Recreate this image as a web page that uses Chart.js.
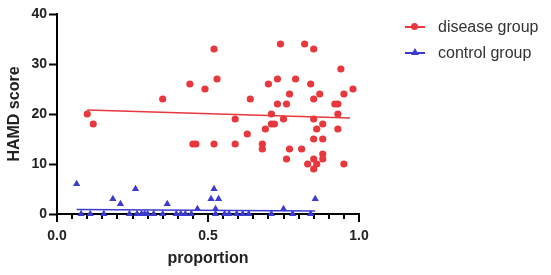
<!DOCTYPE html>
<html>
<head>
<meta charset="utf-8">
<script src="https://cdn.jsdelivr.net/npm/chart.js@4.4.1/dist/chart.umd.min.js"></script>
<style>
  html, body { margin: 0; padding: 0; background: #fff; }
  #wrap { position: relative; width: 551px; height: 275px; }
  canvas { position: absolute; left: 0; top: 0; }
  .leg { position: absolute; left: 403px; font: 16px "Liberation Sans", Arial, sans-serif; color: #333; white-space: nowrap; height: 20px; line-height: 20px; }
  .leg .ln { position: absolute; left: 2px; top: 9px; width: 20px; height: 1.5px; }
  .leg .mk { position: absolute; }
  .leg .tx { position: absolute; left: 35px; top: 0; }
</style>
</head>
<body>
<div id="wrap">
  <canvas id="c" width="551" height="275"></canvas>
  <div class="leg" style="top:17px">
    <div class="ln" style="background:#e8383d"></div>
    <div class="mk" style="left:8px;top:6px;width:7px;height:7px;border-radius:50%;background:#e8383d"></div>
    <span class="tx">disease group</span>
  </div>
  <div class="leg" style="top:43px">
    <div class="ln" style="background:#3b3bd0"></div>
    <div class="mk" style="left:8px;top:5px;width:0;height:0;border-left:4px solid transparent;border-right:4px solid transparent;border-bottom:7px solid #3b3bd0"></div>
    <span class="tx">control group</span>
  </div>
</div>
<script>
// ---- data ----
const diseaseProportion = [0.10,0.12,0.35,0.44,0.45,0.46,0.49,0.52,0.52,0.53,0.59,0.59,0.63,0.64,0.68,0.68,0.69,0.70,0.71,0.71,0.72,0.73,0.73,0.74,0.75,0.76,0.76,0.77,0.77,0.79,0.81,0.82,0.83,0.84,0.85,0.85,0.85,0.85,0.85,0.85,0.86,0.86,0.87,0.88,0.88,0.88,0.88,0.92,0.93,0.93,0.93,0.94,0.95,0.95,0.98];
const diseaseScore      = [20,18,23,26,14,14,25,33,14,27,19,14,16,23,14,13,17,26,20,18,18,22,27,34,19,22,11,24,13,27,13,34,10,26,33,23,19,15,11,9,17,10,24,18,15,12,11,22,22,20,17,29,24,10,25];
const controlProportion = [0.065,0.08,0.11,0.155,0.185,0.21,0.24,0.26,0.265,0.28,0.29,0.30,0.32,0.35,0.365,0.395,0.41,0.425,0.445,0.465,0.51,0.52,0.525,0.525,0.535,0.555,0.57,0.595,0.615,0.635,0.71,0.75,0.78,0.84,0.855];
const controlScore      = [6,0,0,0,3,2,0,5,0,0,0,0,0,0,2,0,0,0,0,1,3,5,1,0,3,0,0,0,0,0,0,1,0,0,3];
const diseaseFitX = [0.10, 0.97];
const diseaseFitY = [20.8, 19.2];
const controlFitX = [0.065, 0.855];
const controlFitY = [0.9, 0.6];
const xTicks = [0.0, 0.5, 1.0];
const yTicks = [0, 10, 20, 30, 40];
const seriesNames = ['disease group', 'control group'];

const RED = '#e8383d', BLUE = '#3b3bd0';
const FONT = '"Liberation Sans", Arial, sans-serif';
const pts = (xs, ys) => xs.map((x, i) => ({ x: x, y: ys[i] }));

const xTickPlugin = {
  id: 'xTickPlugin',
  beforeDatasetsDraw(chart) {
    const sx = chart.scales.x, ctx = chart.ctx, y0 = chart.chartArea.bottom;
    ctx.save();
    ctx.strokeStyle = '#000';
    ctx.lineWidth = 2;
    sx.ticks.forEach(t => {
      const px = Math.round(sx.getPixelForValue(t.value));
      const major = xTicks.some(v => Math.abs(v - t.value) < 1e-6);
      ctx.beginPath();
      ctx.moveTo(px, y0);
      ctx.lineTo(px, y0 + (major ? 8 : 5));
      ctx.stroke();
    });
    ctx.restore();
  }
};

new Chart(document.getElementById('c'), {
  type: 'scatter',
  data: {
    datasets: [
      { label: seriesNames[0], data: pts(diseaseProportion, diseaseScore), pointStyle: 'circle', pointRadius: 3.6, backgroundColor: RED, borderColor: RED, borderWidth: 0, clip: false, order: 2 },
      { label: seriesNames[1], data: pts(controlProportion, controlScore), pointStyle: 'triangle', pointRadius: 4.2, backgroundColor: BLUE, borderColor: BLUE, borderWidth: 0, clip: false, order: 1 },
      { label: 'fit1', type: 'line', data: pts(diseaseFitX, diseaseFitY), borderColor: RED, borderWidth: 1.5, pointRadius: 0, fill: false, clip: false, order: 3 },
      { label: 'fit2', type: 'line', data: pts(controlFitX, controlFitY), borderColor: BLUE, borderWidth: 1.5, pointRadius: 0, fill: false, clip: false, order: 3 }
    ]
  },
  options: {
    responsive: false,
    animation: false,
    events: [],
    layout: { autoPadding: false, padding: { top: 14, right: 192, left: 0, bottom: 0 } },
    plugins: { legend: { display: false }, tooltip: { enabled: false } },
    scales: {
      x: {
        type: 'linear', min: 0, max: 1,
        afterFit(s) { s.height = 61; },
        grid: { display: true, drawOnChartArea: false, drawTicks: false },
        border: { display: true, color: '#000', width: 2 },
        ticks: {
          stepSize: 0.05, autoSkip: false, maxRotation: 0, padding: 14,
          color: '#222', font: { family: FONT, size: 14, weight: 'bold' },
          callback: v => { const m = xTicks.find(t => Math.abs(t - v) < 1e-6); return m === undefined ? '' : m.toFixed(1); }
        },
        title: { display: true, text: 'proportion', color: '#222', font: { family: FONT, size: 16, weight: 'bold' }, padding: { top: 0, bottom: 7 } }
      },
      y: {
        type: 'linear', min: 0, max: 40,
        afterFit(s) { s.width = 57; },
        afterBuildTicks(s) { s.ticks = yTicks.map(v => ({ value: v })); },
        grid: { display: true, drawOnChartArea: false, drawTicks: true, tickLength: 8, tickWidth: 2, tickColor: '#000' },
        border: { display: true, color: '#000', width: 2 },
        ticks: { padding: 2, color: '#222', font: { family: FONT, size: 14, weight: 'bold' } },
        title: { display: true, text: 'HAMD score', color: '#222', font: { family: FONT, size: 16, weight: 'bold' }, padding: { top: 5, bottom: 0 } }
      }
    }
  },
  plugins: [xTickPlugin]
});
</script>
</body>
</html>
